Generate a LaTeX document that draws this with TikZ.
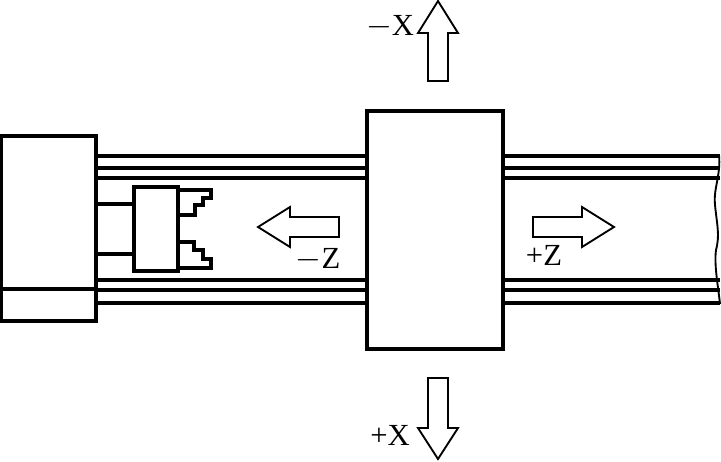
\documentclass[tikz,border=0pt]{standalone}
\usepackage{fontspec}
\setmainfont{Liberation Serif}
\usepackage{xcolor}
\usetikzlibrary{positioning, calc}
\tikzset{
	outline/.style={line width=2.6pt, line join=miter},
	railline/.style={line width=2.7pt},
	thinline/.style={line width=1.4pt},
	moveline/.style={line width=1.4pt, fill=white, line join=miter},
	axislabel/.style={font=\fontsize{23}{27}\selectfont, inner sep=0pt}
}

\begin{document}
\begin{tikzpicture}[x=0.75pt, y=-0.75pt]
	\useasboundingbox (0,0) rectangle (721,461);
	
	% Draw the rails on both sides of the carriage
	\foreach \y in {156, 168, 178, 280, 290, 303}
	\draw[railline] (97,\y) -- (720,\y);
	
	% Draw the broken end of the bed
	\draw[thinline] (719,155) .. controls (721,175) and (713,190) .. (715,205)
	.. controls (717,225) and (720,235) .. (716,250)
	.. controls (714,265) and (718,285) .. (720,304);
	
	% Draw the headstock and the carriage
	\draw[outline] (1.5,136) rectangle (96,321);
	\draw[outline] (1.5,289) -- (96,289);
	\draw[outline, fill=white] (367,111) rectangle (503,349);
	
	% Draw the chuck and its jaws
	\draw[outline] (97,204) -- (134,204);
	\draw[outline] (97,254) -- (134,254);
	\draw[outline] (134,187) rectangle (178,271);
	\draw[outline] (178,190) -- (211,190) -- (211,198) -- (203,198) -- (203,205) -- (195,205) -- (195,215) -- (178,215);
	\draw[outline] (178,242) -- (194,242) -- (194,250) -- (203,250) -- (203,259) -- (211,259) -- (211,268) -- (178,268);
	
	% Draw the four arrows
	\draw[moveline] (428,81) -- (428,33) -- (418,33) -- (438,1) -- (458,33) -- (448,33) -- (448,81) -- cycle;
	\draw[moveline] (428,378) -- (428,428) -- (418,428) -- (438,459) -- (458,428) -- (448,428) -- (448,378) -- cycle;
	\draw[moveline] (339,217) -- (290,217) -- (290,207) -- (258,227) -- (290,247) -- (290,237) -- (339,237) -- cycle;
	\draw[moveline] (533,217) -- (582,217) -- (582,207) -- (614,227) -- (582,247) -- (582,237) -- (533,237) -- cycle;
	
	% Draw the labels for the axes
	\node[axislabel] (minusx) at (390,27) {$-$X};
	\node[axislabel] (plusx) at (390,435) {+X};
	\node[axislabel] (minusz) at (318,260) {$-$Z};
	\node[axislabel] (plusz) at (544,255) {+Z};
	
\end{tikzpicture}
\end{document}
